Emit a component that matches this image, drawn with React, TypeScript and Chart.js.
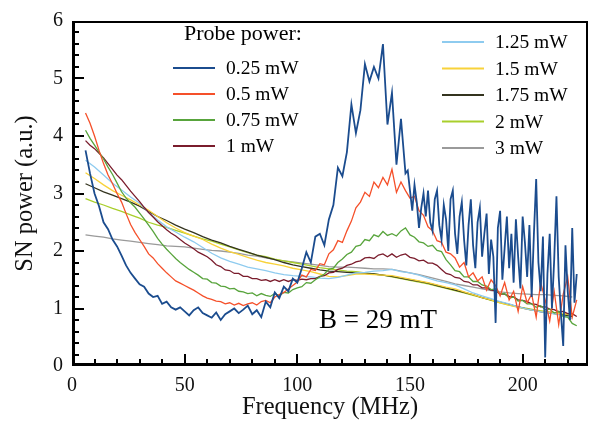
import React, { useEffect, useRef } from "react";
import { Chart, registerables } from "chart.js";

Chart.register(...registerables);

// Frequency grids (MHz)
const freqFine: number[] = Array.from({ length: 110 }, (_, i) => 6 + 2 * i); // 6..224 step 2
const freqCoarse: number[] = Array.from({ length: 55 }, (_, i) => 6 + 4 * i); // 6..222 step 4
const freqBlue: number[] = [
  ...Array.from({ length: 72 }, (_, i) => 6 + 2 * i), // 6..148 step 2
  ...Array.from({ length: 76 }, (_, i) => 149 + i), // 149..224 step 1
];

const xTickValues = [0, 50, 100, 150, 200];
const yTickValues = [0, 1, 2, 3, 4, 5, 6];

const seriesLabels = ["0.25 mW", "0.5 mW", "0.75 mW", "1 mW", "1.25 mW", "1.5 mW", "1.75 mW", "2 mW", "3 mW"];
const seriesColors = ["#1b4c8e", "#f5502a", "#58a43c", "#7a1c2c", "#8ecbef", "#f8d23a", "#34341f", "#a9cf2c", "#9a9a9a"];

// 0.25 mW (freqBlue grid)
const p025 = [
  3.75, 3.35, 3.0, 2.78, 2.5, 2.38, 2.2, 2.08, 1.92, 1.75,
  1.62, 1.52, 1.42, 1.38, 1.26, 1.2, 1.22, 1.08, 1.12, 1.02,
  0.98, 1.02, 0.95, 0.88, 0.97, 1.02, 0.92, 0.88, 0.84, 0.93,
  0.8, 0.9, 0.95, 1.0, 0.92, 0.98, 1.05, 0.9, 0.97, 0.85,
  1.12, 1.02, 1.28, 1.18, 1.38, 1.3, 1.52, 1.45, 1.7, 1.98,
  1.8, 2.25, 2.3, 2.1, 2.55, 2.8, 3.45, 3.3, 3.72, 4.55,
  4.05, 4.45, 5.25, 4.95, 5.2, 5.0, 5.6, 4.2, 4.75, 3.5,
  4.3, 3.35,
  3.4, 3.05, 2.7, 3.15, 2.85, 2.4, 2.75, 3.0, 2.6, 3.05,
  2.5, 2.35, 2.9, 3.05, 2.45, 2.2, 2.8, 2.55, 2.0, 2.9,
  3.05, 2.3, 1.95, 2.6, 2.85, 2.2, 1.75, 2.45, 2.9, 2.1,
  1.7, 2.5, 2.75, 1.9, 2.3, 2.65, 1.6, 2.2, 1.9, 0.75,
  2.4, 2.7, 1.5, 2.05, 2.6, 1.7, 2.3, 1.45, 2.55, 1.9,
  1.35, 2.6, 2.15, 1.55, 2.45, 1.2, 2.3, 3.25, 1.8, 1.3,
  2.25, 0.15, 1.6, 2.3, 1.0, 1.85, 2.95, 1.55, 0.9, 0.35,
  2.1, 1.3, 0.8, 2.4, 1.1, 1.6,
];
// fine-grid series
const p05 = [
  4.4, 4.22, 4.0, 3.75, 3.52, 3.32, 3.17, 3.0, 2.85, 2.65,
  2.46, 2.32, 2.2, 2.08, 1.95, 1.88, 1.78, 1.7, 1.62, 1.55,
  1.48, 1.44, 1.4, 1.36, 1.32, 1.27, 1.22, 1.18, 1.16, 1.13,
  1.12, 1.08, 1.1, 1.06, 1.09, 1.05, 1.08, 1.1, 1.06, 1.12,
  1.14, 1.1, 1.2, 1.24, 1.28, 1.34, 1.4, 1.46, 1.58, 1.55,
  1.68, 1.66, 1.78, 1.76, 1.95, 2.02, 2.18, 2.15, 2.35, 2.52,
  2.75, 2.85, 3.02, 2.95, 3.2, 3.1, 3.28, 3.15, 3.42, 3.02,
  3.2, 3.05, 2.92, 2.95, 2.7, 2.62, 2.42, 2.35, 2.18, 2.15,
  1.98, 1.95, 1.88, 1.72, 1.8, 1.55, 1.62, 1.48, 1.55, 1.32,
  1.5, 1.4, 1.22, 1.45, 1.15, 1.3, 0.95, 1.38, 1.1, 1.25,
  0.85, 1.45, 1.15, 0.78, 1.3, 0.72, 1.25, 1.55, 0.85, 1.15,
];
const p075 = [
  4.1, 3.96, 3.84, 3.72, 3.6, 3.46, 3.33, 3.18, 3.03, 2.92,
  2.84, 2.76, 2.66, 2.56, 2.45, 2.34, 2.22, 2.12, 2.03, 1.95,
  1.87, 1.8, 1.74, 1.68, 1.63, 1.58, 1.52, 1.51, 1.45, 1.44,
  1.39, 1.38, 1.34, 1.35, 1.3, 1.29, 1.26, 1.27, 1.22, 1.26,
  1.23, 1.21, 1.26, 1.22, 1.28, 1.27, 1.33, 1.36, 1.38, 1.45,
  1.44, 1.5, 1.55, 1.6, 1.68, 1.7, 1.8, 1.86, 1.94, 1.98,
  2.08, 2.1, 2.2, 2.18, 2.28, 2.25, 2.34, 2.27, 2.3, 2.26,
  2.35, 2.4, 2.28, 2.24, 2.16, 2.14, 2.08, 2.1, 2.01, 1.99,
  1.85, 1.76, 1.66, 1.64, 1.55, 1.55, 1.47, 1.47, 1.41, 1.39,
  1.33, 1.34, 1.25, 1.26, 1.18, 1.2, 1.13, 1.14, 1.08, 1.08,
  1.02, 1.05, 0.98, 0.99, 0.92, 0.95, 0.86, 0.85, 0.74, 0.7,
];
const p1 = [
  3.92, 3.84, 3.78, 3.7, 3.62, 3.52, 3.42, 3.32, 3.24, 3.14,
  3.04, 2.95, 2.86, 2.76, 2.67, 2.59, 2.51, 2.44, 2.37, 2.31,
  2.26, 2.2, 2.14, 2.09, 2.04, 1.98, 1.94, 1.9, 1.84, 1.76,
  1.73, 1.67, 1.66, 1.61, 1.61, 1.56, 1.56, 1.52, 1.52, 1.49,
  1.5, 1.47, 1.5, 1.47, 1.5, 1.47, 1.5, 1.49, 1.51, 1.5,
  1.52, 1.52, 1.56, 1.57, 1.62, 1.63, 1.68, 1.7, 1.75, 1.77,
  1.81, 1.83, 1.88, 1.89, 1.87, 1.93, 1.95, 1.9, 1.95, 1.89,
  1.93, 1.95, 1.89, 1.87, 1.83, 1.84, 1.79, 1.79, 1.75, 1.68,
  1.61, 1.59, 1.54, 1.53, 1.47, 1.46, 1.41, 1.41, 1.36, 1.36,
  1.32, 1.31, 1.25, 1.25, 1.21, 1.2, 1.15, 1.14, 1.12, 1.08,
  1.07, 1.03, 1.03, 0.99, 0.98, 0.94, 0.95, 0.91, 0.91, 0.86,
];

// coarse-grid series
const p125 = [
  3.58, 3.46, 3.32, 3.18, 3.06, 2.94, 2.83, 2.67, 2.54, 2.42,
  2.33, 2.24, 2.16, 2.06, 1.96, 1.88, 1.82, 1.77, 1.72, 1.69,
  1.66, 1.62, 1.59, 1.57, 1.56, 1.55, 1.53, 1.52, 1.54, 1.58,
  1.62, 1.63, 1.65, 1.66, 1.68, 1.64, 1.62, 1.58, 1.53, 1.48,
  1.45, 1.41, 1.34, 1.27, 1.22, 1.17, 1.12, 1.08, 1.03, 0.99,
  0.96, 0.93, 0.91, 0.87, 0.83,
];
const p15 = [
  3.36, 3.26, 3.15, 3.05, 2.97, 2.89, 2.8, 2.71, 2.6, 2.49,
  2.4, 2.32, 2.26, 2.2, 2.12, 2.05, 1.99, 1.94, 1.89, 1.84,
  1.8, 1.77, 1.74, 1.7, 1.67, 1.64, 1.6, 1.56, 1.55, 1.57,
  1.6, 1.6, 1.59, 1.58, 1.57, 1.54, 1.51, 1.48, 1.45, 1.41,
  1.37, 1.34, 1.29, 1.24, 1.19, 1.15, 1.1, 1.06, 1.02, 0.99,
  0.96, 0.94, 0.92, 0.91, 0.9,
];
const p175 = [
  3.17, 3.1, 3.03, 2.97, 2.91, 2.85, 2.78, 2.69, 2.6, 2.53,
  2.45, 2.38, 2.32, 2.25, 2.19, 2.14, 2.08, 2.03, 1.98, 1.93,
  1.89, 1.85, 1.8, 1.76, 1.73, 1.7, 1.67, 1.65, 1.64, 1.63,
  1.62, 1.61, 1.6, 1.58, 1.56, 1.53, 1.5, 1.47, 1.44, 1.4,
  1.36, 1.32, 1.28, 1.24, 1.19, 1.15, 1.11, 1.07, 1.03, 0.99,
  0.96, 0.93, 0.91, 0.89, 0.86,
];
const p2 = [
  2.91, 2.85, 2.8, 2.74, 2.69, 2.63, 2.57, 2.5, 2.45, 2.41,
  2.36, 2.31, 2.26, 2.21, 2.17, 2.12, 2.07, 2.02, 1.97, 1.93,
  1.9, 1.86, 1.83, 1.8, 1.77, 1.74, 1.71, 1.69, 1.67, 1.65,
  1.64, 1.62, 1.6, 1.58, 1.55, 1.52, 1.49, 1.46, 1.43, 1.39,
  1.35, 1.31, 1.27, 1.23, 1.19, 1.14, 1.1, 1.06, 1.03, 1.0,
  0.97, 0.95, 0.93, 0.91, 0.88,
];
const p3 = [
  2.28, 2.26, 2.24, 2.21, 2.19, 2.17, 2.15, 2.13, 2.11, 2.09,
  2.08, 2.07, 2.05, 2.03, 2.01, 2.0, 1.98, 1.96, 1.93, 1.91,
  1.88, 1.85, 1.83, 1.81, 1.79, 1.77, 1.75, 1.73, 1.72, 1.72,
  1.71, 1.7, 1.69, 1.69, 1.68, 1.65, 1.62, 1.59, 1.55, 1.51,
  1.47, 1.43, 1.4, 1.37, 1.34, 1.31, 1.29, 1.27, 1.26, 1.25,
  1.24, 1.24, 1.23, 1.22, 1.2,
];

const seriesValues = [p025, p05, p075, p1, p125, p15, p175, p2, p3];
const seriesGrids = [freqBlue, freqFine, freqFine, freqFine, freqCoarse, freqCoarse, freqCoarse, freqCoarse, freqCoarse];

const SERIF = '"Liberation Serif", "Times New Roman", serif';

const framePlugin = {
  id: "frameAndLegend",
  afterDraw(chart: any) {
    const { ctx, chartArea, scales } = chart;
    const { left, right, top, bottom } = chartArea;
    const xs = scales.x;
    const ys = scales.y;
    ctx.save();
    ctx.strokeStyle = "#000";
    ctx.lineWidth = 2;
    ctx.beginPath();
    ctx.moveTo(left, top + 1);
    ctx.lineTo(right - 1, top + 1);
    ctx.lineTo(right - 1, bottom);
    ctx.stroke();
    ctx.lineWidth = 3;
    ctx.beginPath();
    ctx.moveTo(left + 1.5, top);
    ctx.lineTo(left + 1.5, bottom - 1.5);
    ctx.lineTo(right, bottom - 1.5);
    ctx.stroke();
    ctx.lineWidth = 2;
    ctx.beginPath();
    for (let v = 10; v <= 220; v += 10) {
      const px = Math.round(xs.getPixelForValue(v));
      const len = v % 50 === 0 ? 12 : 7;
      ctx.moveTo(px, bottom);
      ctx.lineTo(px, bottom - len);
    }
    for (let k = 1; k < 30; k++) {
      const v = k * 0.2;
      const py = Math.round(ys.getPixelForValue(v));
      const len = k % 5 === 0 ? 12 : 7;
      ctx.moveTo(left, py);
      ctx.lineTo(left + len, py);
    }
    ctx.stroke();

    // legend
    ctx.fillStyle = "#000";
    ctx.textBaseline = "middle";
    ctx.textAlign = "left";
    ctx.font = `22px ${SERIF}`;
    ctx.fillText("Probe power:", 184, 34);
    ctx.font = `19.5px ${SERIF}`;
    const leftRows = [68, 94, 120, 146];
    const rightRows = [42, 68.5, 95, 121.5, 148];
    chart.data.datasets.forEach((ds: any, i: number) => {
      let x0: number, y0: number;
      if (i < 4) {
        x0 = 173;
        y0 = leftRows[i];
      } else {
        x0 = 442;
        y0 = rightRows[i - 4];
      }
      ctx.strokeStyle = ds.borderColor;
      ctx.lineWidth = 2;
      ctx.beginPath();
      ctx.moveTo(x0, y0);
      ctx.lineTo(x0 + 42, y0);
      ctx.stroke();
      ctx.fillStyle = "#000";
      ctx.fillText(ds.label, x0 + 53, y0 + 1);
    });

    ctx.font = `27px ${SERIF}`;
    ctx.textAlign = "center";
    ctx.fillText("B = 29 mT", 378, 321);
    ctx.restore();
  },
};

export default function App() {
  const canvasRef = useRef<HTMLCanvasElement | null>(null);

  useEffect(() => {
    const canvas = canvasRef.current;
    if (!canvas) return;
    const datasets = seriesLabels.map((label, i) => ({
      label,
      data: seriesValues[i].map((y, j) => ({ x: seriesGrids[i][j], y })),
      borderColor: seriesColors[i],
      backgroundColor: seriesColors[i],
      borderWidth: i === 0 ? 1.8 : 1.3,
      pointRadius: 0,
      tension: 0,
      fill: false,
    }));

    const tickFont = { family: SERIF, size: 20 };
    const chart = new Chart(canvas, {
      type: "line",
      data: { datasets },
      options: {
        animation: false,
        responsive: false,
        devicePixelRatio: 1,
        layout: { padding: { left: 0, right: 1, top: 12, bottom: 0 } },
        plugins: { legend: { display: false }, tooltip: { enabled: false } },
        scales: {
          x: {
            type: "linear",
            min: 0,
            max: 229,
            grid: { display: false, drawTicks: false },
            border: { display: false },
            afterBuildTicks: (s: any) => {
              s.ticks = xTickValues.map((v) => ({ value: v }));
            },
            afterFit: (s: any) => {
              s.height = 63;
            },
            ticks: { font: tickFont, color: "#111", padding: 8, maxRotation: 0, autoSkip: false },
            title: {
              display: true,
              text: "Frequency (MHz)",
              font: { family: SERIF, size: 24.5 },
              color: "#111",
              padding: { top: 0, bottom: 7 },
            },
          },
          y: {
            type: "linear",
            min: 0,
            max: 6,
            grid: { display: false, drawTicks: false },
            border: { display: false },
            afterBuildTicks: (s: any) => {
              s.ticks = yTickValues.map((v) => ({ value: v }));
            },
            afterFit: (s: any) => {
              s.width = 72;
            },
            ticks: { font: tickFont, color: "#111", padding: 9, autoSkip: false },
            title: {
              display: true,
              text: "SN power (a.u.)",
              font: { family: SERIF, size: 24.5 },
              color: "#111",
              padding: { top: 11, bottom: 0 },
            },
          },
        },
      } as any,
      plugins: [framePlugin],
    });
    return () => chart.destroy();
  }, []);

  return (
    <div style={{ position: "fixed", left: 0, top: 0, width: 589, height: 429, background: "#fff" }}>
      <canvas ref={canvasRef} width={589} height={429} style={{ width: 589, height: 429, display: "block" }} />
    </div>
  );
}
